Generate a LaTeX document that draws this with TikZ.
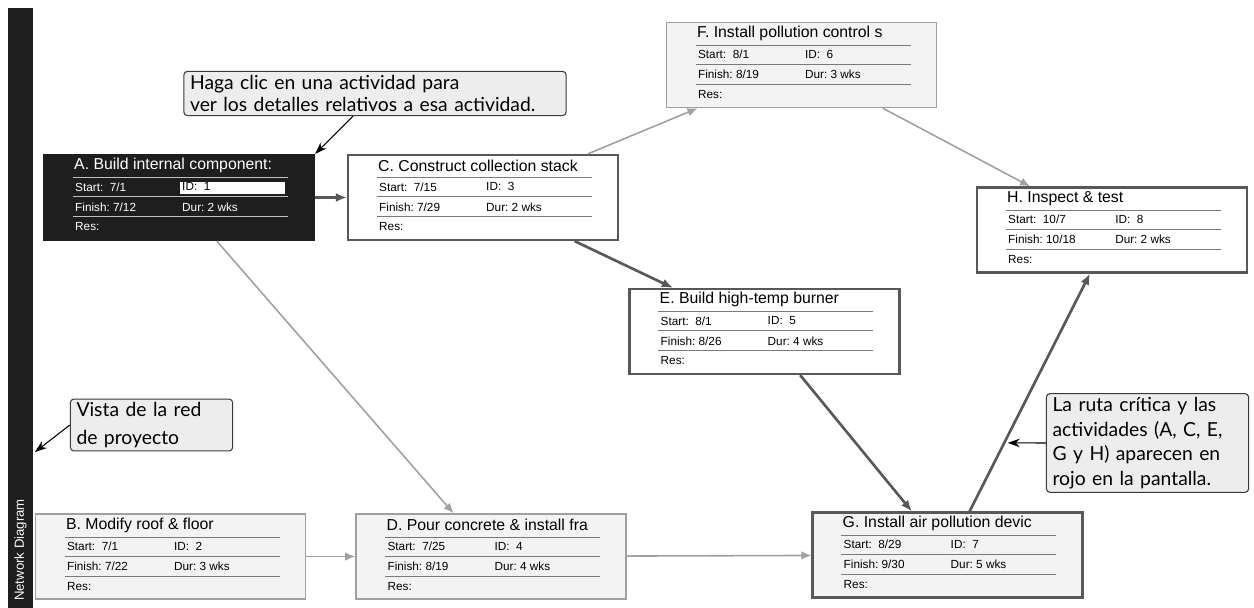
\documentclass[tikz,border=0pt]{standalone}
\usepackage{fontspec}
\setmainfont{Lato}
\newfontfamily\boxfont{Liberation Sans}
\usetikzlibrary{arrows.meta,positioning,calc}
\definecolor{BarBlack}{HTML}{1E1E1E}
\definecolor{NoteFill}{HTML}{EDEDED}
\definecolor{NoteLine}{HTML}{3A3A3A}
\definecolor{SoftGray}{HTML}{F3F3F3}
\definecolor{CritLine}{HTML}{585858}
\definecolor{PlainLine}{HTML}{A0A0A0}
\definecolor{RuleGray}{HTML}{7A7A7A}
\newcommand{\actfields}[6]{%
\node[fld,anchor=west,font=\boxfont\fontsize{9}{10}\selectfont] (#1t) at ($(#1.north west)+(31,12)$) {#2};
\draw[sepline] ($(#1.north west)+(30,24)$) -- ($(#1.north west)+(245,24)$);
\node[fld,anchor=west] (#1s) at ($(#1.north west)+(32,33)$) {Start:\ \ #3};
\node[idfld,anchor=west] (#1i) at ($(#1.north west)+(139,33)$) {ID:\ \ #4};
\draw[sepline] ($(#1.north west)+(30,43)$) -- ($(#1.north west)+(245,43)$);
\node[fld,anchor=west] (#1f) at ($(#1.north west)+(32,53)$) {Finish:\ #5};
\node[fld,anchor=west] (#1d) at ($(#1.north west)+(139,53)$) {Dur:\ #6};
\draw[sepline] ($(#1.north west)+(30,63)$) -- ($(#1.north west)+(245,63)$);
\node[fld,anchor=west] (#1r) at ($(#1.north west)+(32,73)$) {Res:};
}
\begin{document}
\begin{tikzpicture}[
x=0.02cm,y=-0.02cm,
act/.style={draw=PlainLine,fill=SoftGray,line width=0.9pt,minimum width=5.4cm,minimum height=1.7cm,inner sep=0pt},
crit/.style={act,draw=CritLine,line width=1.3pt},
fld/.style={inner sep=0pt,font=\boxfont\fontsize{6.7}{7.5}\selectfont},
idfld/.style={fld},
sepline/.style={draw=RuleGray,line width=0.6pt},
note/.style={draw=NoteLine,fill=NoteFill,rounded corners=2pt,line width=0.6pt,align=left,inner xsep=3.5pt,inner ysep=2pt},
tip/.style={-{Stealth[length=2.4mm,width=1.7mm]},line width=0.6pt,black},
plainarr/.style={-{Latex[length=2mm,width=1.7mm]},draw=PlainLine,line width=0.9pt},
critarr/.style={-{Latex[length=2.2mm,width=1.8mm]},draw=CritLine,line width=1.5pt}
]
\useasboundingbox (0,0) rectangle (1254,608);
% side bar
\node[fill=BarBlack,minimum width=0.5cm,minimum height=12cm,inner sep=0pt] (bar) at (20.5,308) {};
\node[rotate=90,text=white,font=\boxfont\fontsize{7.5}{8}\selectfont] (barlabel) at (20.5,550) {Network Diagram};
% activities
\node[crit,fill=BarBlack,draw=BarBlack] (A) at (179,197.5) {};
\node[act] (B) at (170.5,556.5) {};
\node[crit,fill=white] (C) at (483,197.5) {};
\node[act] (D) at (491,556.5) {};
\node[crit,fill=white] (E) at (764.5,331.5) {};
\node[act] (F) at (801.5,65) {};
\node[crit] (G) at (947.5,555) {};
\node[crit,fill=white] (H) at (1112,230) {};
\fill[white] ($(A.north west)+(137,28)$) rectangle ($(A.north west)+(242,40)$);
\begin{scope}[fld/.append style={text=white},idfld/.style={fld,text=black},sepline/.append style={draw=white!75!black}]
\actfields{A}{A. Build internal component:}{7/1}{1}{7/12}{2 wks}
\end{scope}
\actfields{B}{B. Modify roof \& floor}{7/1}{2}{7/22}{3 wks}
\actfields{C}{C. Construct collection stack}{7/15}{3}{7/29}{2 wks}
\actfields{D}{D. Pour concrete \& install fra}{7/25}{4}{8/19}{4 wks}
\actfields{E}{E. Build high-temp burner}{8/1}{5}{8/26}{4 wks}
\actfields{F}{F. Install pollution control s}{8/1}{6}{8/19}{3 wks}
\actfields{G}{G. Install air pollution devic}{8/29}{7}{9/30}{5 wks}
\actfields{H}{H. Inspect \& test}{10/7}{8}{10/18}{2 wks}
% dependencies
\draw[critarr] (A) -- (C);
\draw[plainarr] (A) -- (D);
\draw[plainarr] (B) -- (D);
\draw[plainarr] (C) -- (F);
\draw[critarr] (C) -- (E);
\draw[plainarr] (D) -- (G);
\draw[critarr] (E) -- (G);
\draw[plainarr] (F) -- (H);
\draw[critarr] (G) -- (H);
% callouts
\node[note,text width=7.4cm,font=\fontsize{11}{13}\selectfont] (clic) at (375,93.5) {Haga clic en una actividad para\\ver los detalles relativos a esa actividad.};
\node[note,text width=3.0cm,font=\fontsize{11}{15.5}\selectfont] (vista) at (151.5,425) {Vista de la red\\de proyecto};
\node[note,text width=3.8cm,font=\fontsize{11}{14}\selectfont] (ruta) at (1147.5,443) {La ruta crítica y las\\actividades (A, C, E,\\G y H) aparecen en\\rojo en la pantalla.};
\coordinate (vistatip) at (35,452);
\coordinate (rutatip) at ($(G)!0.345!(H)$);
\draw[tip] ($(clic.south)+(-22,0)$) -- (A.north east);
\draw[tip] (vista.west) -- (vistatip);
\draw[tip,shorten >=2pt] (ruta.west) -- (rutatip);
\end{tikzpicture}
\end{document}
